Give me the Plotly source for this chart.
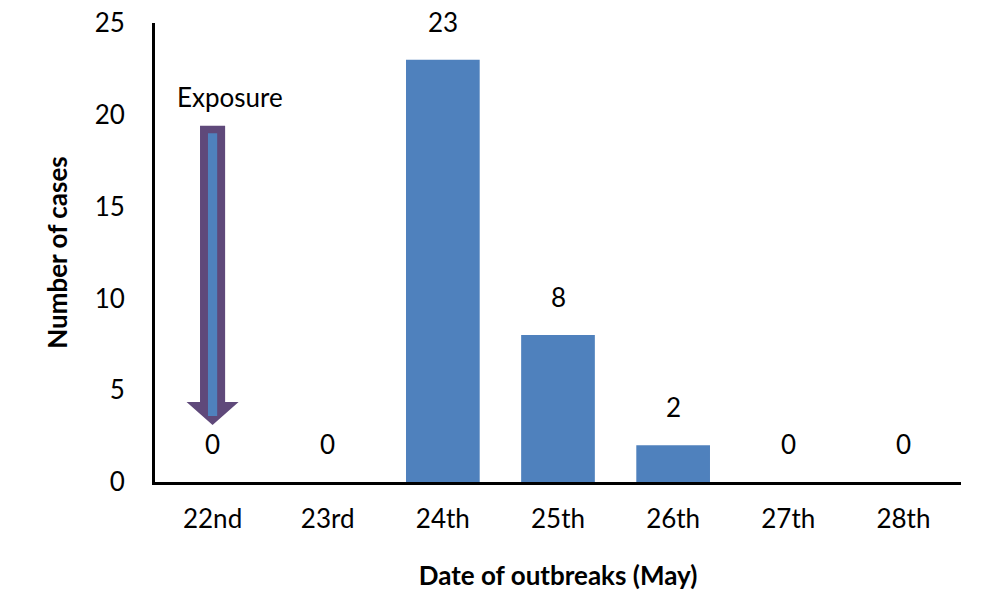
import plotly.graph_objects as go

dates = ["22nd", "23rd", "24th", "25th", "26th", "27th", "28th"]
cases = [0, 0, 23, 8, 2, 0, 0]
y_ticks = [0, 5, 10, 15, 20, 25]
exposure_label = "Exposure"
exposure_index = 0          # arrow sits at the 22nd
arrow_top = 19.4
arrow_head_start = 4.36
arrow_tip = 3.1

BAR = "#4F81BD"
PURPLE = "#5F497A"
FONT = "Lato, 'Open Sans', sans-serif"
FS = 26

fig = go.Figure()
fig.add_trace(go.Bar(
    x=dates, y=cases, marker=dict(color=BAR, line=dict(width=0)),
    width=0.64, showlegend=False, hoverinfo="skip",
))
for d, v in zip(dates, cases):
    fig.add_annotation(x=d, y=v, xref="x", yref="y", text=str(v), showarrow=False,
                       yanchor="bottom", yshift=20,
                       font=dict(size=FS, color="black", family=FONT))

x0 = exposure_index
sw, hw, iw = 0.109, 0.226, 0.04
path = (f"M {x0-sw},{arrow_top} L {x0+sw},{arrow_top} L {x0+sw},{arrow_head_start} "
        f"L {x0+hw},{arrow_head_start} L {x0},{arrow_tip} L {x0-hw},{arrow_head_start} "
        f"L {x0-sw},{arrow_head_start} Z")
fig.add_shape(type="path", path=path, xref="x", yref="y",
              fillcolor=PURPLE, line=dict(width=0), layer="above")
fig.add_shape(type="rect", xref="x", yref="y",
              x0=x0-iw, x1=x0+iw, y0=arrow_tip+0.5, y1=arrow_top-0.4,
              fillcolor=BAR, line=dict(width=0), layer="above")
fig.add_annotation(x=x0+0.15, y=20.95, xref="x", yref="y", text=exposure_label,
                   showarrow=False, font=dict(size=FS, color="black", family=FONT))

fig.update_layout(
    width=998, height=611,
    margin=dict(l=155, r=37, t=23, b=129, autoexpand=False),
    paper_bgcolor="white", plot_bgcolor="white",
    font=dict(family=FONT, color="black", size=FS),
)
fig.update_xaxes(
    type="category", showline=True, linecolor="black", linewidth=3,
    showgrid=False, ticks="", tickfont=dict(size=FS, family=FONT), automargin=False,
    title=dict(text="<b>Date of outbreaks (May)</b>", font=dict(size=FS, family=FONT), standoff=34),
    ticklabelstandoff=12,
)
fig.update_yaxes(
    range=[0, 25], tickvals=y_ticks, showline=True, linecolor="black", linewidth=3,
    showgrid=False, zeroline=False, ticks="", tickfont=dict(size=FS, family=FONT), automargin=False,
    title=dict(text="<b>Number of cases</b>", font=dict(size=FS, family=FONT), standoff=20),
    ticklabelstandoff=22,
)

fig.write_html("out.html")
